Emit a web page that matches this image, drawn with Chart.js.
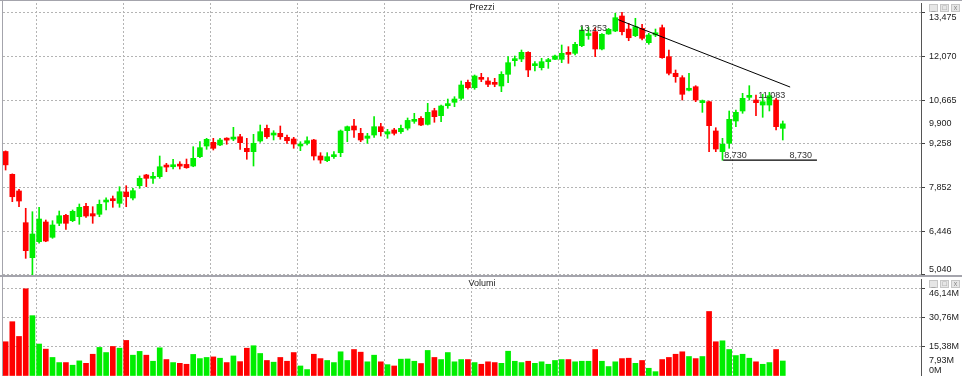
<!DOCTYPE html>
<html>
<head>
<meta charset="utf-8">
<script src="https://cdn.jsdelivr.net/npm/chart.js@4.4.0/dist/chart.umd.min.js"></script>
<style>
  html, body { margin: 0; padding: 0; background: #fff; }
  #wrap { position: relative; width: 962px; height: 376px; overflow: hidden; font-family: "Liberation Sans", Arial, sans-serif; }
  canvas { position: absolute; left: 0; }
  #cPrice { top: 0; }
  #cVol { top: 277px; }
  .line { position: absolute; background: #a4a4ac; }
  .title { position: absolute; font-size: 9px; line-height: 10px; color: #222; transform: translateX(-50%); }
  .btns { position: absolute; left: 929px; display: flex; gap: 2px; }
  .btns span { display: block; width: 9px; height: 8px; box-sizing: border-box; background: #e6e6e6; border: 1px solid #c6c6c6; color: #888; font-size: 7px; line-height: 6px; text-align: center; }
</style>
</head>
<body>
<div id="wrap">
  <canvas id="cPrice" width="962" height="275"></canvas>
  <canvas id="cVol" width="962" height="99"></canvas>
  <div class="line" style="left:0;top:0;width:962px;height:1px"></div>
  <div class="line" style="left:2px;top:0;width:1px;height:376px"></div>
  <div class="line" style="left:0;top:275px;width:962px;height:2px"></div>
  <div class="title" style="left:482px;top:2px">Prezzi</div>
  <div class="title" style="left:482px;top:278px">Volumi</div>
  <div class="btns" style="top:4px"><span>_</span><span>□</span><span>x</span></div>
  <div class="btns" style="top:280px"><span>_</span><span>□</span><span>x</span></div>
</div>
<script>
// Prices (EUR), one candle per session
const open = [9.010, 8.275, 7.740, 6.720, 5.594, 6.108, 6.742, 6.250, 6.700, 6.957,
  6.784, 6.912, 7.247, 7.010, 6.990, 7.385, 7.450, 7.343, 7.707, 7.513,
  7.910, 8.255, 8.147, 8.200, 8.540, 8.520, 8.595, 8.595, 8.543, 8.843,
  9.186, 9.305, 9.220, 9.400, 9.410, 9.485, 9.112, 9.004, 9.348, 9.755,
  9.540, 9.595, 9.466, 9.412, 9.187, 9.273, 9.380, 8.865, 8.714, 8.843,
  8.972, 9.680, 9.830, 9.595, 9.434, 9.540, 9.808, 9.573, 9.702, 9.647,
  9.760, 9.980, 10.077, 9.884, 10.323, 10.162, 10.485, 10.593, 10.720, 11.236,
  11.062, 11.385, 11.278, 11.224, 11.117, 11.493, 11.932, 11.985, 12.200, 11.770,
  11.707, 11.900, 11.975, 11.975, 12.168, 12.168, 12.414, 12.740, 12.864, 12.307,
  12.790, 12.886, 13.369, 12.950, 12.735, 12.973, 12.510, 12.758, 12.993, 12.060,
  11.526, 11.385, 10.980, 11.094, 10.580, 10.612, 9.670, 9.004, 9.273, 9.991,
  10.313, 10.752, 10.666, 10.505, 10.505, 10.666, 9.755];
const high = [9.030, 8.290, 7.793, 7.183, 7.073, 7.215, 6.806, 6.784, 7.095, 6.990,
  7.128, 7.321, 7.343, 7.234, 7.449, 7.523, 7.578, 7.877, 7.910, 7.825,
  8.222, 8.275, 8.340, 8.865, 8.630, 8.760, 8.682, 8.768, 9.164, 9.325,
  9.434, 9.434, 9.434, 9.453, 9.788, 9.563, 9.434, 9.563, 9.862, 9.862,
  9.680, 9.830, 9.540, 9.466, 9.325, 9.485, 9.402, 8.972, 8.972, 9.004,
  9.702, 9.830, 10.045, 9.755, 9.595, 10.130, 9.916, 9.723, 9.755, 9.862,
  10.088, 10.238, 10.130, 10.560, 10.400, 10.505, 10.698, 10.773, 11.278, 11.310,
  11.471, 11.524, 11.385, 11.364, 11.577, 12.060, 12.082, 12.275, 12.220, 11.899,
  12.008, 12.008, 12.114, 12.436, 12.382, 12.523, 13.025, 13.000, 12.993, 12.800,
  12.973, 13.456, 13.488, 13.134, 13.295, 13.102, 12.812, 12.950, 13.079, 12.275,
  11.632, 11.449, 11.525, 11.127, 10.666, 10.634, 9.775, 9.434, 10.313, 10.345,
  10.882, 11.127, 10.827, 10.850, 10.914, 10.720, 9.991];
const low = [8.414, 7.395, 7.234, 5.573, 5.040, 6.057, 6.108, 6.217, 6.623, 6.507,
  6.752, 6.668, 6.893, 6.700, 6.912, 7.128, 7.215, 7.215, 7.234, 7.449,
  7.825, 7.877, 7.987, 8.147, 8.360, 8.447, 8.447, 8.470, 8.520, 8.810,
  9.080, 9.058, 9.197, 9.242, 9.357, 9.080, 8.760, 8.543, 9.305, 9.434,
  9.380, 9.402, 9.273, 9.113, 9.036, 9.220, 8.736, 8.630, 8.682, 8.790,
  8.843, 9.325, 9.466, 9.325, 9.273, 9.466, 9.508, 9.434, 9.540, 9.595,
  9.701, 9.916, 9.840, 9.862, 9.950, 9.970, 10.400, 10.451, 10.666, 11.011,
  11.011, 11.256, 11.094, 11.094, 10.934, 11.224, 11.760, 11.899, 11.417, 11.600,
  11.632, 11.685, 11.960, 11.867, 11.846, 12.114, 12.382, 12.620, 12.060, 12.275,
  12.780, 12.864, 12.758, 12.574, 12.703, 12.597, 12.458, 12.703, 12.008, 11.471,
  11.236, 10.666, 10.955, 10.612, 10.270, 9.004, 9.004, 8.730, 9.113, 9.808,
  10.238, 10.666, 10.162, 10.110, 10.313, 9.701, 9.380];
const close = [8.580, 7.555, 7.417, 5.819, 6.356, 6.838, 6.130, 6.645, 6.944, 6.700,
  7.086, 7.215, 6.935, 6.935, 7.310, 7.427, 7.427, 7.716, 7.555, 7.749,
  8.147, 8.147, 8.200, 8.520, 8.510, 8.575, 8.540, 8.488, 8.790, 9.133,
  9.402, 9.113, 9.380, 9.375, 9.450, 9.293, 9.004, 9.274, 9.647, 9.485,
  9.600, 9.485, 9.357, 9.250, 9.240, 9.357, 8.865, 8.736, 8.843, 8.897,
  9.670, 9.808, 9.702, 9.380, 9.508, 9.808, 9.647, 9.647, 9.595, 9.755,
  10.010, 10.030, 9.862, 10.270, 10.130, 10.474, 10.505, 10.698, 11.149, 11.062,
  11.439, 11.332, 11.170, 11.170, 11.493, 11.867, 11.975, 12.200, 11.632, 11.815,
  11.899, 11.953, 12.082, 12.168, 12.135, 12.458, 12.918, 12.790, 12.307, 12.780,
  12.940, 13.314, 12.864, 12.670, 13.025, 12.651, 12.758, 12.830, 12.028, 11.526,
  11.417, 10.850, 11.011, 10.666, 10.620, 9.840, 9.090, 9.242, 10.045, 10.270,
  10.721, 10.805, 10.580, 10.612, 10.805, 9.808, 9.900];
// Volumes in millions
const volume = [18.1, 28.7, 20.9, 46.1, 31.9, 16.9, 14.2, 9.8, 7.1, 7.1,
  5.7, 8.0, 6.7, 11.5, 15.1, 12.4, 15.6, 14.7, 18.8, 11.0,
  13.0, 11.0, 7.8, 14.9, 8.7, 7.1, 6.7, 6.2, 11.4, 9.2,
  9.8, 10.1, 9.4, 7.1, 10.6, 7.6, 14.7, 16.0, 11.9, 8.2,
  7.3, 9.8, 7.8, 12.4, 5.3, 3.4, 11.5, 9.2, 8.2, 7.1,
  12.8, 8.2, 14.0, 12.6, 7.5, 11.0, 7.5, 6.0, 5.3, 8.9,
  9.0, 7.8, 6.6, 13.5, 9.8, 8.7, 12.4, 7.5, 8.7, 8.7,
  7.1, 6.2, 7.5, 7.1, 6.7, 13.1, 7.8, 7.1, 7.8, 6.7,
  7.5, 6.2, 8.2, 8.7, 8.7, 7.5, 7.8, 7.8, 14.0, 7.8,
  5.0, 7.5, 9.2, 9.4, 6.7, 8.2, 4.1, 2.3, 8.7, 9.8,
  11.5, 12.8, 10.3, 9.2, 10.3, 34.1, 18.1, 18.6, 14.0, 10.8,
  11.5, 9.4, 7.5, 6.2, 7.1, 14.0, 7.93];

// Axis ticks and drawn objects
const priceTicks = [13.475, 12.070, 10.665, 9.258, 7.852, 6.446, 5.040];
const lastPrice = 9.900;
const volTicks = [46.14, 30.76, 15.38, 0];
const lastVol = 7.93;
const gridX = [4.54, 17.54, 30.54, 43.54, 56.54, 69.54, 82.54, 95.54, 108.54];
const trendX = [91.4, 117.1];
const trendY = [13.253, 11.083];
const supportX = [107.1, 121.1];
const supportY = 8.730;

const UP = '#00ee00', DOWN = '#ff0000';
const colors = open.map((o, i) => close[i] >= o ? UP : DOWN);
const xMin = -0.39, xMax = 136.63;

const fmtPrice = v => v.toFixed(3).replace('.', ',');
const fmtVol = v => v === 0 ? '0M' : v.toFixed(2).replace('.', ',') + 'M';

// right-hand labels, kept inside the panel like the original terminal does
function sideLabels(values, fmt) {
  return {
    id: 'sideLabels',
    afterDraw(chart) {
      const { ctx, chartArea, scales: { y } } = chart;
      ctx.save();
      ctx.font = '9px "Liberation Sans", Arial, sans-serif';
      ctx.fillStyle = '#222';
      ctx.textBaseline = 'middle';
      ctx.textAlign = 'left';
      values.forEach(v => {
        let py = y.getPixelForValue(v);
        py = Math.min(Math.max(py, chartArea.top + 15), chartArea.bottom - 5);
        ctx.fillText(fmt(v), chartArea.right + 8, py);
      });
      ctx.restore();
    }
  };
}

const lineNotes = {
  id: 'lineNotes',
  afterDatasetsDraw(chart) {
    const { ctx, scales: { x, y } } = chart;
    const notes = [
      { x: trendX[0], y: trendY[0], dx: -11, dy: 9, align: 'right' },
      { x: trendX[1], y: trendY[1], dx: -5, dy: 8, align: 'right' },
      { x: supportX[0], y: supportY, dx: 1, dy: -5, align: 'left' },
      { x: supportX[1], y: supportY, dx: -5, dy: -5, align: 'right' }
    ];
    ctx.save();
    ctx.font = '9px "Liberation Sans", Arial, sans-serif';
    ctx.fillStyle = '#333';
    ctx.textBaseline = 'middle';
    notes.forEach(n => {
      ctx.textAlign = n.align;
      ctx.fillText(fmtPrice(n.y), x.getPixelForValue(n.x) + n.dx, y.getPixelForValue(n.y) + n.dy);
    });
    ctx.restore();
  }
};

const gridColor = '#b4b4b4';
function xScale() {
  return {
    type: 'linear', min: xMin, max: xMax, offset: false,
    afterBuildTicks: s => { s.ticks = gridX.map(v => ({ value: v })); },
    afterFit: s => { s.height = 0; },
    ticks: { display: false },
    grid: { color: gridColor, drawTicks: false, offset: false, borderDash: [2, 2] },
    border: { display: false, dash: [2, 2] }
  };
}
function yScale(min, max, ticks, last) {
  return {
    position: 'right', min: min, max: max,
    afterBuildTicks: s => { s.ticks = ticks.concat([last]).map(v => ({ value: v })); },
    afterFit: s => { s.width = 41; },
    ticks: { display: false },
    grid: {
      color: c => (c.tick && c.tick.value === last) ? 'rgba(0,0,0,0)' : gridColor,
      tickColor: c => (c.tick && c.tick.value === last) ? 'rgba(0,0,0,0)' : '#444',
      tickLength: 4, drawTicks: true, borderDash: [2, 2]
    },
    border: { display: true, color: '#555', dash: [2, 2] }
  };
}

new Chart(document.getElementById('cPrice'), {
  type: 'bar',
  data: {
    datasets: [
      {
        type: 'line', order: 0,
        data: trendX.map((v, i) => ({ x: v, y: trendY[i] })),
        borderColor: '#000', borderWidth: 1, pointRadius: 0
      },
      {
        type: 'line', order: 0,
        data: supportX.map(v => ({ x: v, y: supportY })),
        borderColor: '#000', borderWidth: 1.2, pointRadius: 0
      },
      {
        order: 1, grouped: false, barThickness: 5, minBarLength: 2,
        data: open.map((o, i) => ({ x: i, y: [o, close[i]] })),
        backgroundColor: colors
      },
      {
        order: 2, grouped: false, barThickness: 1,
        data: low.map((l, i) => ({ x: i, y: [l, high[i]] })),
        backgroundColor: colors
      }
    ]
  },
  options: {
    responsive: false, animation: false,
    layout: { padding: { left: 3, top: 3, right: 0, bottom: 0 } },
    plugins: { legend: { display: false }, tooltip: { enabled: false } },
    scales: { x: xScale(), y: yScale(5.037, 13.787, priceTicks, lastPrice) }
  },
  plugins: [sideLabels(priceTicks.concat([lastPrice]), fmtPrice), lineNotes]
});

new Chart(document.getElementById('cVol'), {
  type: 'bar',
  data: {
    datasets: [{
      grouped: false, barThickness: 5,
      data: volume.map((v, i) => ({ x: i, y: v })),
      backgroundColor: colors
    }]
  },
  options: {
    responsive: false, animation: false,
    layout: { padding: { left: 3, top: 2, right: 0, bottom: 0 } },
    plugins: { legend: { display: false }, tooltip: { enabled: false } },
    scales: { x: xScale(), y: yScale(0, 51.27, volTicks, lastVol) }
  },
  plugins: [sideLabels(volTicks.concat([lastVol]), fmtVol)]
});
</script>
</body>
</html>
